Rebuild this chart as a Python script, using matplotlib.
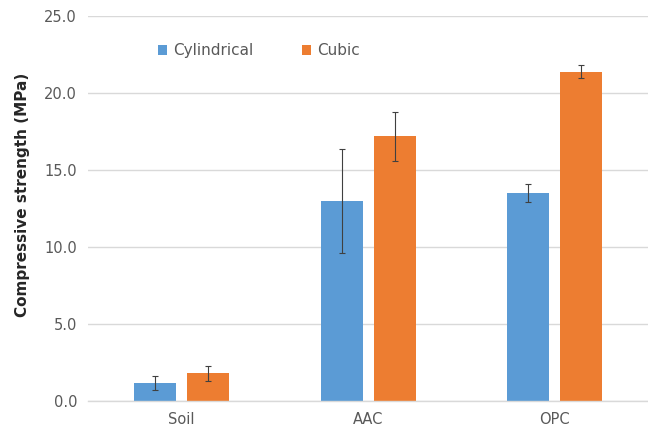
import matplotlib
matplotlib.use("Agg")
import matplotlib.pyplot as plt
import numpy as np

categories = ["Soil", "AAC", "OPC"]
cylindrical = [1.2, 13.0, 13.5]
cylindrical_err = [0.45, 3.4, 0.6]
cubic = [1.8, 17.2, 21.4]
cubic_err = [0.5, 1.6, 0.4]
yticks = [0, 5, 10, 15, 20, 25]

BLUE = "#5B9BD5"
ORANGE = "#ED7D31"
GRID = "#D9D9D9"
TXT = "#595959"

fig = plt.figure(figsize=(6.48, 4.36), dpi=100)
ax = fig.add_axes([0.136, 0.080, 0.864, 0.883])

x = np.arange(len(categories))
w = 0.225
off = 0.142
ax.bar(x - off, cylindrical, w, color=BLUE, label="Cylindrical", zorder=2)
ax.bar(x + off, cubic, w, color=ORANGE, label="Cubic", zorder=2)
ax.errorbar(x - off, cylindrical, yerr=cylindrical_err, fmt="none",
            ecolor="#404040", elinewidth=0.8, capsize=2.5, capthick=0.8, zorder=3)
ax.errorbar(x + off, cubic, yerr=cubic_err, fmt="none",
            ecolor="#404040", elinewidth=0.8, capsize=2.5, capthick=0.8, zorder=3)

ax.set_xlim(-0.5, 2.5)
ax.set_ylim(0, 25)
ax.set_yticks(yticks)
ax.set_yticklabels([f"{v:.1f}" for v in yticks], color=TXT, fontsize=10.5)
ax.set_xticks(x)
ax.set_xticklabels(categories, color=TXT, fontsize=10.5)
ax.tick_params(length=0, pad=8)
ax.yaxis.grid(True, color=GRID, lw=1, zorder=0)
ax.set_axisbelow(True)
for s in ("top", "right", "left"):
    ax.spines[s].set_visible(False)
ax.spines["bottom"].set_color(GRID)
ax.spines["bottom"].set_linewidth(1)
ax.set_ylabel("Compressive strength (MPa)", fontsize=11, fontweight="bold",
              color="#262626")
ax.yaxis.set_label_coords(-0.104, 0.535)

leg = ax.legend(loc="upper left", bbox_to_anchor=(0.1, 0.965), ncol=2, frameon=False,
                fontsize=11, handlelength=0.6, handleheight=0.6, handletextpad=0.4,
                columnspacing=3.2)
for t in leg.get_texts():
    t.set_color(TXT)

fig.savefig("out.png", dpi=100)
